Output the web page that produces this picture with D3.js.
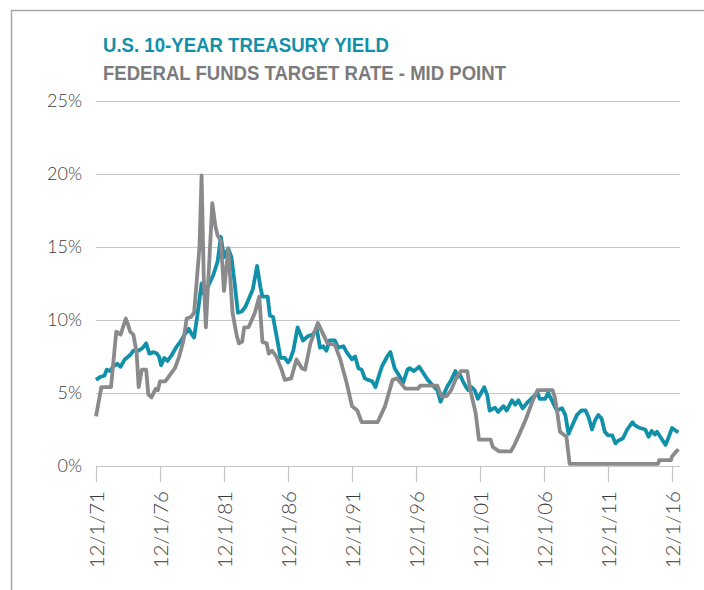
<!DOCTYPE html>
<html>
<head>
<meta charset="utf-8">
<script src="https://cdnjs.cloudflare.com/ajax/libs/d3/7.8.5/d3.min.js"></script>
<style>
    body { margin: 0; background: #fff; }
    svg { display: block; }
</style>
</head>
<body>
<script>
// U.S. 10-year treasury yield (%)
var tsyDates = ["1971-12","1972-04","1972-08","1972-10","1973-01","1973-04","1973-08","1973-11","1974-03","1974-08",
    "1974-11","1975-04","1975-08","1975-11","1976-02","1976-06","1976-09","1976-11","1977-01","1977-04",
    "1977-07","1977-11","1978-03","1978-08","1978-11","1979-03","1979-06","1979-08","1979-11","1980-03",
    "1980-05","1980-09","1981-02","1981-06","1981-09","1981-12","1982-04","1982-07","1982-10","1983-01",
    "1983-05","1983-08","1983-11","1984-03","1984-07","1984-10","1984-12","1985-05","1985-07","1985-10",
    "1986-02","1986-05","1986-09","1986-12","1987-02","1987-05","1987-09","1988-02","1988-07","1988-11",
    "1989-03","1989-06","1989-09","1989-12","1990-03","1990-08","1990-11","1991-04","1991-07","1991-12",
    "1992-03","1992-06","1992-09","1992-12","1993-03","1993-07","1993-10","1993-12","1994-04","1994-09",
    "1994-12","1995-04","1995-09","1995-12","1996-04","1996-06","1996-10","1997-03","1997-07","1997-11",
    "1998-04","1998-08","1998-11","1999-01","1999-05","1999-09","2000-01","2000-03","2000-05","2000-08",
    "2000-11","2001-01","2001-04","2001-07","2001-10","2002-01","2002-04","2002-07","2002-09","2003-02",
    "2003-05","2003-10","2004-01","2004-06","2004-09","2004-12","2005-04","2005-09","2006-02","2006-06",
    "2006-08","2007-01","2007-04","2007-08","2007-12","2008-05","2008-08","2008-11","2009-02","2009-07",
    "2009-11","2010-03","2010-06","2010-09","2010-12","2011-03","2011-06","2011-09","2011-12","2012-04",
    "2012-07","2012-09","2013-02","2013-06","2013-11","2014-01","2014-06","2014-11","2015-02","2015-05",
    "2015-08","2015-10","2016-01","2016-06","2016-08","2016-12","2017-05","2017-06"];
var tsyValues = [5.9,6.1,6.2,6.6,6.5,6.8,7.0,6.8,7.3,7.6,
    7.9,7.9,8.1,8.4,7.7,7.8,7.7,7.5,6.9,7.4,
    7.2,7.6,8.1,8.6,9.0,9.4,9.0,8.8,10.3,12.5,
    11.8,12.3,13.1,14.0,15.7,14.3,14.9,14.3,12.5,10.5,
    10.6,10.9,11.4,12.1,13.7,12.3,11.6,11.6,10.3,10.2,
    8.6,7.4,7.4,7.1,7.3,7.9,9.5,8.6,8.9,9.0,
    9.4,8.1,8.2,7.9,8.6,8.6,8.1,8.2,7.8,7.3,
    7.5,6.7,6.6,6.0,5.9,5.8,5.4,5.9,6.8,7.5,
    7.8,6.7,6.1,5.7,6.6,6.7,6.5,6.8,6.35,5.9,
    5.5,5.2,4.4,4.75,5.4,5.9,6.5,6.1,6.3,5.8,
    5.4,5.2,5.4,5.2,4.6,5.0,5.4,4.8,3.8,4.0,
    3.7,4.1,3.8,4.5,4.2,4.5,3.95,4.4,4.75,5.0,
    4.6,4.6,5.0,4.4,3.8,3.95,3.5,2.2,2.7,3.5,
    3.8,3.8,3.3,2.5,3.15,3.5,3.25,2.35,2.1,2.1,
    1.55,1.7,1.9,2.5,3.0,2.8,2.6,2.5,2.0,2.4,
    2.15,2.35,2.0,1.45,1.8,2.6,2.35,2.3];

// federal funds target rate, mid point (%)
var ffDates = ["1971-12","1972-05","1973-02","1973-07","1973-11","1974-04","1974-06","1974-08","1974-11","1975-02",
    "1975-04","1975-07","1975-11","1976-01","1976-04","1976-08","1976-10","1976-12","1977-05","1977-09",
    "1978-02","1978-06","1978-10","1979-01","1979-05","1979-08","1979-11","1980-01","1980-03","1980-05",
    "1980-07","1981-01","1981-04","1981-06","1981-09","1981-12","1982-04","1982-08","1982-12","1983-02",
    "1983-05","1983-07","1983-11","1984-05","1984-09","1984-12","1985-04","1985-06","1985-09","1986-01",
    "1986-06","1986-09","1987-03","1987-08","1988-01","1988-04","1988-09","1989-04","1990-01","1990-08",
    "1991-01","1991-07","1991-12","1992-05","1992-09","1993-12","1994-07","1995-02","1995-06","1996-02",
    "1997-02","1997-04","1998-08","1998-12","1999-05","1999-09","2000-01","2000-06","2000-12","2001-03",
    "2001-08","2001-11","2002-10","2002-12","2003-06","2004-05","2004-08","2005-01","2005-07","2006-01",
    "2006-06","2007-08","2007-10","2007-12","2008-03","2008-09","2008-12","2015-11","2015-12","2016-11",
    "2016-12","2017-03","2017-06"];
var ffValues = [3.4,5.4,5.4,9.2,9.0,10.1,9.7,9.2,9.0,7.8,
    5.4,6.6,6.6,4.9,4.7,5.3,5.2,5.8,5.8,6.2,
    6.7,7.5,8.6,10.1,10.2,10.5,13.2,15.0,19.9,13.0,
    9.5,18.0,16.4,15.8,15.4,12.0,14.9,10.5,8.9,8.4,
    8.5,9.5,9.5,10.5,11.6,8.5,8.4,7.7,7.9,7.5,
    6.6,5.9,6.0,7.3,6.7,6.6,8.4,9.8,8.4,8.3,
    7.3,5.7,4.1,3.8,3.0,3.0,4.1,5.9,6.0,5.3,
    5.3,5.5,5.5,4.75,4.8,5.2,5.9,6.5,6.5,5.2,
    3.6,1.8,1.8,1.3,1.0,1.0,1.4,2.2,3.2,4.4,
    5.2,5.2,4.75,3.9,2.35,2.0,0.15,0.15,0.4,0.4,
    0.65,0.9,1.15];

var yTicks = [0, 5, 10, 15, 20, 25];
var xTicks = ["1971-12","1976-12","1981-12","1986-12","1991-12","1996-12","2001-12","2006-12","2011-12","2016-12"];
var titleTsy = "U.S. 10-YEAR TREASURY YIELD";
var titleFf = "FEDERAL FUNDS TARGET RATE - MID POINT";

var parse = d3.timeParse("%Y-%m");
var fmt = d3.timeFormat("%-m/%-d/%y");

var teal = "#1190a9", grey = "#8a8a8c";

var svg = d3.select("body").append("svg")
    .attr("width", 704)
    .attr("height", 590);

// frame
svg.append("path")
    .attr("d", "M11.5,590V10.5H704")
    .attr("fill", "none")
    .attr("stroke", "#a6a6a6")
    .attr("stroke-width", 1.5);

var x = d3.scaleTime()
    .domain([parse("1971-12"), parse("2016-12")])
    .range([96, 672]);
var y = d3.scaleLinear()
    .domain([0, 25])
    .range([466, 101]);

//titles
svg.append("text")
    .attr("x", 103).attr("y", 52)
    .attr("fill", teal)
    .attr("font-family", "'Liberation Sans Narrow', 'Liberation Sans', sans-serif")
    .attr("font-weight", "bold")
    .attr("font-size", 19.5)
    .attr("textLength", 286)
    .attr("lengthAdjust", "spacingAndGlyphs")
    .text(titleTsy);
svg.append("text")
    .attr("x", 103).attr("y", 80)
    .attr("fill", "#7b7b7b")
    .attr("font-family", "'Liberation Sans Narrow', 'Liberation Sans', sans-serif")
    .attr("font-weight", "bold")
    .attr("font-size", 19.5)
    .attr("textLength", 403)
    .attr("lengthAdjust", "spacingAndGlyphs")
    .text(titleFf);

//axisy with gridlines
var axisy = d3.axisLeft(y)
    .tickValues(yTicks)
    .tickSize(-584)
    .tickPadding(14)
    .tickFormat(d => d + "%");
var gy = svg.append("g")
    .attr("transform", "translate(96,0)")
    .call(axisy);
gy.select(".domain").remove();
gy.selectAll(".tick line").attr("stroke", "#c6c6c6").attr("stroke-width", 1.2);
gy.selectAll(".tick text")
    .attr("fill", "#3c3c3c")
    .attr("font-family", "Lato, 'Open Sans', sans-serif")
    .attr("font-weight", 300)
    .attr("font-size", 18);

//axisx
var axisx = d3.axisBottom(x)
    .tickValues(xTicks.map(parse))
    .tickSize(16)
    .tickSizeOuter(0)
    .tickFormat(fmt);
var gx = svg.append("g")
    .attr("transform", "translate(0,466)")
    .call(axisx);
gx.select(".domain").attr("d", "M96,0.5H679").attr("stroke", "#c6c6c6").attr("stroke-width", 1.2);
gx.selectAll(".tick line").attr("stroke", "#c6c6c6").attr("stroke-width", 1.2);
gx.selectAll(".tick text")
    .attr("fill", "#3c3c3c")
    .attr("font-family", "Lato, 'Open Sans', sans-serif")
    .attr("font-weight", 300)
    .attr("font-size", 20.5)
    .attr("text-anchor", "end")
    .attr("transform", "rotate(-90)")
    .attr("x", -25)
    .attr("y", 0)
    .attr("dy", "0.35em");

// lines
var line = d3.line()
    .x(d => x(d[0]))
    .y(d => y(d[1]));

var tsy = tsyDates.map((d, i) => [parse(d), tsyValues[i]]);
var ff = ffDates.map((d, i) => [parse(d), ffValues[i]]);

svg.append("path")
    .datum(tsy)
    .attr("d", line)
    .attr("fill", "none")
    .attr("stroke", teal)
    .attr("stroke-width", 3.8)
    .attr("stroke-linejoin", "round");

svg.append("path")
    .datum(ff)
    .attr("d", line)
    .attr("fill", "none")
    .attr("stroke", grey)
    .attr("stroke-width", 3.8)
    .attr("stroke-linejoin", "round");
</script>
</body>
</html>
